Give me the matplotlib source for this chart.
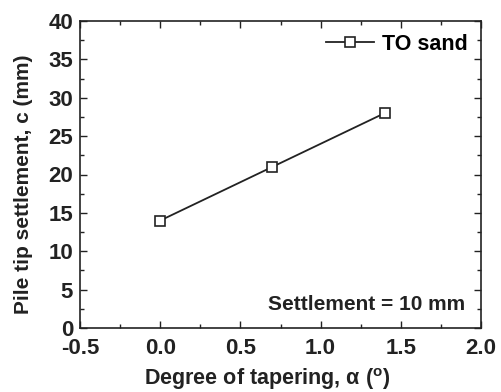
import matplotlib
matplotlib.use("Agg")
import matplotlib.pyplot as plt
from matplotlib.ticker import MultipleLocator

taper = [0.0, 0.7, 1.4]
settle = [14, 21, 28]
series_label = "TO sand"

plt.rcParams['font.family'] = ['Liberation Sans', 'DejaVu Sans']
plt.rcParams['font.weight'] = 'bold'
plt.rcParams['axes.unicode_minus'] = False
plt.rcParams['mathtext.fontset'] = 'custom'
plt.rcParams['mathtext.bf'] = 'Liberation Sans:bold'

fig = plt.figure(figsize=(5.02, 3.92), dpi=100)
ax = fig.add_axes([80/502, 1-328/392, (481-80)/502, (328-21)/392])

ax.plot(taper, settle, color='#222222', lw=1.3, marker='s', ms=6.5,
        mfc='white', mec='#222222', mew=1.2, label=series_label)

ax.set_xlim(-0.5, 2.0)
ax.set_ylim(0, 40)
ax.xaxis.set_major_locator(MultipleLocator(0.5))
ax.xaxis.set_minor_locator(MultipleLocator(0.25))
ax.yaxis.set_major_locator(MultipleLocator(5))
ax.yaxis.set_minor_locator(MultipleLocator(2.5))
ax.tick_params(which='both', direction='in', top=True, right=True,
               labelsize=16, width=1.0, colors='#222222')
ax.tick_params(which='major', length=5)
ax.tick_params(axis='x', which='major', pad=7)
ax.tick_params(axis='y', which='major', pad=5)
ax.tick_params(which='minor', length=3)
for s in ax.spines.values():
    s.set_linewidth(1.2)
    s.set_color('#222222')
for lab in ax.get_xticklabels() + ax.get_yticklabels():
    lab.set_fontweight('bold')

ax.set_xlabel('Degree of tapering, α ($^{\\mathbf{o}}$)', fontsize=15.5,
              fontweight='bold', color='#222222', va='center')
ax.set_ylabel('Pile tip settlement, c (mm)', fontsize=15,
              fontweight='bold', color='#222222', va='center')
ax.xaxis.set_label_coords(0.466, -0.165)
ax.yaxis.set_label_coords(-0.14, 0.469)

leg = ax.legend(loc='upper right', frameon=False, fontsize=15.5,
                handlelength=2.2, handletextpad=0.4, borderaxespad=0.2)
for t in leg.get_texts():
    t.set_fontweight('bold')

ax.text(0.96, 0.045, 'Settlement = 10 mm', transform=ax.transAxes,
        ha='right', va='bottom', fontsize=15, fontweight='bold', color='#222222')

fig.savefig('out.png', dpi=100)
